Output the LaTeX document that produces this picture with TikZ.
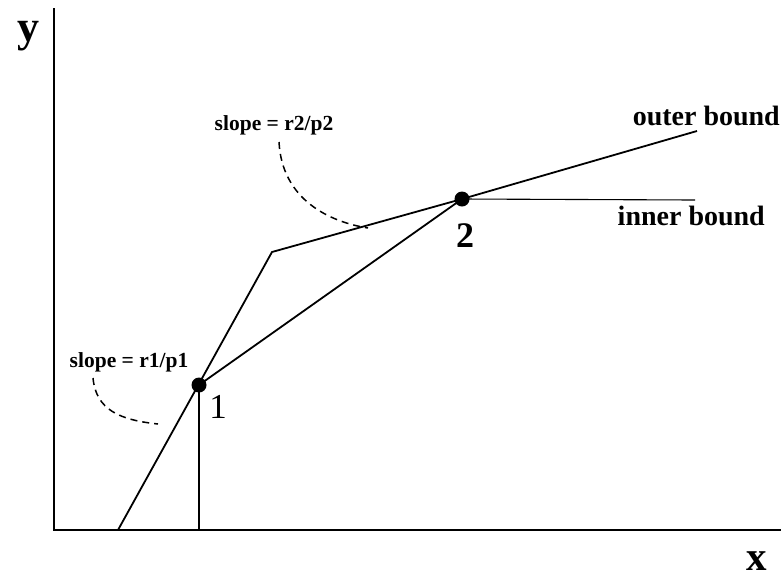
\documentclass[tikz,border=0pt]{standalone}
\usepackage{fontspec}
\setmainfont{Liberation Serif}
\begin{document}
\begin{tikzpicture}[x=1pt,y=-1pt,
  curve/.style={line width=1.8pt},
  thin/.style={line width=1.1pt},
  dsh/.style={line width=1.5pt,dash pattern=on 7pt off 5pt},
  lbl/.style={font=\bfseries\fontsize{28}{30}\selectfont,inner sep=0pt},
  slab/.style={font=\bfseries\fontsize{21.5}{23}\selectfont,inner sep=0pt},
  dot/.style={circle,fill=black,minimum size=15pt,inner sep=0pt}]
\useasboundingbox (0,0) rectangle (781,582);
\coordinate (O) at (54,530);
\coordinate (ytop) at (54,8);
\coordinate (xend) at (781,530);
\draw[thin] (ytop) -- (O) -- (xend);
\coordinate (a) at (118,530);
\coordinate (k) at (272,252);
\node[dot] (p1) at (199,385) {};
\node[dot] (p2) at (462,199) {};
\coordinate (oe) at (697,131);
\coordinate (ie) at (695,200);
\coordinate (f1) at (199,530);
\draw[curve] (a) -- (k) -- (p2.center) -- (oe);
\draw[curve] (p1.center) -- (p2.center);
\draw[thin] (p2.center) -- (ie);
\draw[thin] (p1.center) -- (f1);
\draw[dsh] (93,378) .. controls (96,410) and (120,420) .. (158,424);
\draw[dsh] (279,142) .. controls (282,200) and (330,222) .. (368,228);
\node[font=\bfseries\fontsize{44}{46}\selectfont,inner sep=0pt] (ylab) at (28,36) {y};
\node[font=\bfseries\fontsize{41}{43}\selectfont,inner sep=0pt] (xlab) at (757,561) {x};
\node[slab] (s1) at (129,362) {slope = r1/p1};
\node[slab] (s2) at (274,125) {slope = r2/p2};
\node[lbl,anchor=east] (ob) at (780,116) {outer bound};
\node[lbl,anchor=east] (ib) at (765,216) {inner bound};
\node[font=\fontsize{35}{37}\selectfont,inner sep=0pt] (n1) at (218,407) {1};
\node[font=\bfseries\fontsize{36}{38}\selectfont,inner sep=0pt] (n2) at (465,236) {2};
\end{tikzpicture}
\end{document}
